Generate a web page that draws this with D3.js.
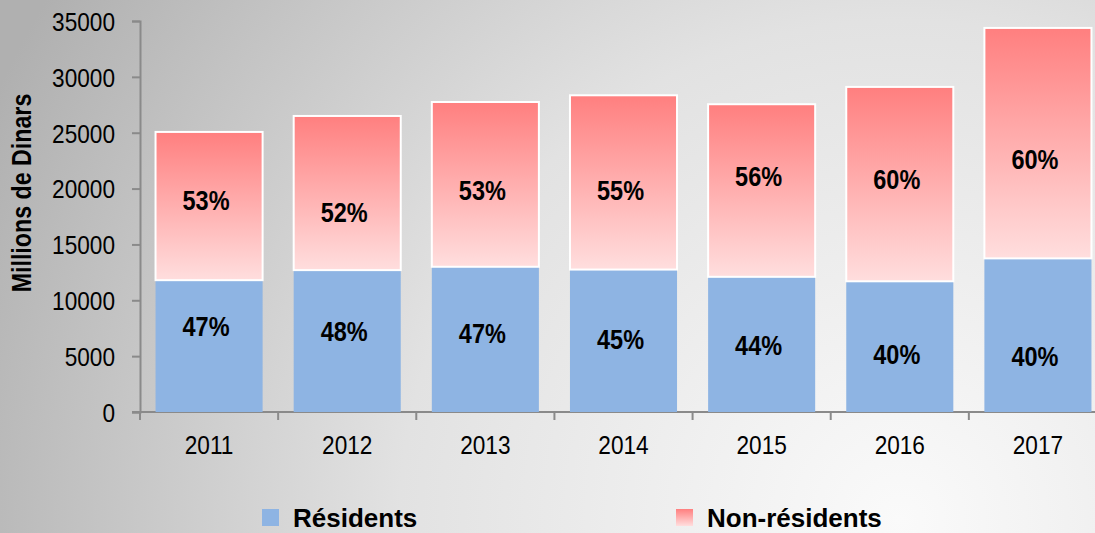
<!DOCTYPE html>
<html>
  <head>
    <meta charset="utf-8">
    <script type="text/javascript" src="https://cdn.jsdelivr.net/npm/d3@7/dist/d3.min.js"></script>
    <style>
      body { margin: 0; }
      text { font-family: "Liberation Sans", Arial, sans-serif; }
    </style>
  </head>
  <body>
    <script type="text/javascript">
    // data (millions de dinars)
    var years = ["2011", "2012", "2013", "2014", "2015", "2016", "2017"];
    var residents = [11800, 12700, 13000, 12750, 12100, 11700, 13750];
    var nonResidents = [13270, 13800, 14750, 15600, 15450, 17400, 20630];
    var resPct = ["47%", "48%", "47%", "45%", "44%", "40%", "40%"];
    var nonResPct = ["53%", "52%", "53%", "55%", "56%", "60%", "60%"];
    // where the percentage labels sit, in data units (placed by hand in the original)
    var resLabelAt = [7700, 7250, 7070, 6535, 6000, 5190, 5010];
    var nonResLabelAt = [18980, 17905, 19875, 19875, 21130, 20860, 22650];
    var yTicks = [0, 5000, 10000, 15000, 20000, 25000, 30000, 35000];
    var seriesNames = ["Résidents", "Non-résidents"];

    var W = 1095, H = 533;
    var svg = d3.select('body').append('svg')
                .attr('width', W)
                .attr('height', H);

    // the original uses a condensed face; squeeze Liberation Sans instead
    function squeeze(px, py, s) {
        return 'translate(' + px + ',' + py + ') scale(' + s + ',1)';
    }

    var defs = svg.append('defs');
    var bg = defs.append('radialGradient')
                 .attr('id', 'bg')
                 .attr('gradientUnits', 'userSpaceOnUse')
                 .attr('cx', 900).attr('cy', 520).attr('r', 1000);
    bg.append('stop').attr('offset', 0).attr('stop-color', '#fafafa');
    bg.append('stop').attr('offset', 0.5).attr('stop-color', '#e2e2e2');
    bg.append('stop').attr('offset', 1).attr('stop-color', '#b0b0b0');

    var pink = defs.append('linearGradient')
                   .attr('id', 'pink')
                   .attr('x1', 0).attr('y1', 0).attr('x2', 0).attr('y2', 1);
    pink.append('stop').attr('offset', 0).attr('stop-color', '#ff7f7f');
    pink.append('stop').attr('offset', 1).attr('stop-color', '#ffdede');

    svg.append('rect')
       .attr('width', W).attr('height', H)
       .attr('fill', 'url(#bg)');

    var x = d3.scaleBand()
              .domain(years)
              .range([140, 1107])
              .paddingInner(0.225)
              .paddingOuter(0.1125);
    var y = d3.scaleLinear().domain([0, 35000]).range([412, 21]);

    // y axis
    var yAxis = svg.append('g')
        .attr('transform', 'translate(140,0)')
        .call(d3.axisLeft(y).tickValues(yTicks).tickFormat(d3.format('d')).tickSize(8).tickPadding(17));
    yAxis.select('.domain').attr('stroke', '#8a8a8a').attr('stroke-width', 2);
    yAxis.selectAll('.tick line').attr('stroke', '#8a8a8a').attr('stroke-width', 2);
    yAxis.selectAll('.tick text')
         .attr('x', 0)
         .attr('dy', '0.36em')
         .attr('transform', squeeze(-25, 0, 0.87))
         .style('font-family', '"Liberation Sans", Arial, sans-serif')
         .style('font-size', '26px')
         .attr('fill', '#000');

    // x axis: baseline + ticks at the band boundaries
    var xg = svg.append('g');
    xg.append('line')
      .attr('x1', 132).attr('x2', W)
      .attr('y1', y(0)).attr('y2', y(0))
      .attr('stroke', '#8a8a8a').attr('stroke-width', 2);
    var bounds = d3.range(years.length + 1).map(function(i) { return 140 + i * x.step(); });
    xg.selectAll('line.xt')
      .data(bounds)
      .enter()
      .append('line')
      .attr('class', 'xt')
      .attr('x1', function(d) { return d; })
      .attr('x2', function(d) { return d; })
      .attr('y1', y(0)).attr('y2', y(0) + 8)
      .attr('stroke', '#8a8a8a').attr('stroke-width', 2);
    xg.selectAll('text')
      .data(years)
      .enter()
      .append('text')
      .attr('transform', function(d) { return squeeze(x(d) + x.bandwidth() / 2, 454, 0.87); })
      .attr('text-anchor', 'middle')
      .style('font-size', '26px')
      .text(function(d) { return d; });

    // bars
    var rows = years.map(function(yr, i) {
        return { year: yr, res: residents[i], non: nonResidents[i],
                 resPct: resPct[i], nonPct: nonResPct[i],
                 resAt: resLabelAt[i], nonAt: nonResLabelAt[i] };
    });

    svg.selectAll('rect.res')
       .data(rows)
       .enter()
       .append('rect')
       .attr('class', 'res')
       .attr('x', function(d) { return x(d.year); })
       .attr('y', function(d) { return y(d.res); })
       .attr('width', x.bandwidth())
       .attr('height', function(d) { return y(0) - y(d.res); })
       .style('fill', '#8eb4e3');

    svg.selectAll('rect.non')
       .data(rows)
       .enter()
       .append('rect')
       .attr('class', 'non')
       .attr('x', function(d) { return x(d.year); })
       .attr('y', function(d) { return y(d.res + d.non); })
       .attr('width', x.bandwidth())
       .attr('height', function(d) { return y(d.res) - y(d.res + d.non); })
       .style('fill', 'url(#pink)')
       .style('stroke', '#fff')
       .style('stroke-width', 2);

    // percentage labels
    svg.selectAll('text.rp')
       .data(rows)
       .enter()
       .append('text')
       .attr('transform', function(d) { return squeeze(x(d.year) + x.bandwidth() / 2 - 3, y(d.resAt) + 10, 0.84); })
       .attr('text-anchor', 'middle')
       .style('font-size', '28px')
       .style('font-weight', 'bold')
       .text(function(d) { return d.resPct; });

    svg.selectAll('text.np')
       .data(rows)
       .enter()
       .append('text')
       .attr('transform', function(d) { return squeeze(x(d.year) + x.bandwidth() / 2 - 3, y(d.nonAt) + 10, 0.84); })
       .attr('text-anchor', 'middle')
       .style('font-size', '28px')
       .style('font-weight', 'bold')
       .text(function(d) { return d.nonPct; });

    // y title
    svg.append('text')
       .attr('transform', 'translate(31,193) rotate(-90) scale(0.86,1)')
       .attr('text-anchor', 'middle')
       .style('font-size', '27px')
       .style('font-weight', 'bold')
       .text('Millions de Dinars');

    // legend
    var legX = [262, 676];
    var legFill = ['#8eb4e3', 'url(#pink)'];
    var leg = svg.selectAll('g.leg')
                 .data(seriesNames)
                 .enter()
                 .append('g')
                 .attr('transform', function(d, i) { return 'translate(' + legX[i] + ',509)'; });
    leg.append('rect')
       .attr('width', 17).attr('height', 17)
       .style('fill', function(d, i) { return legFill[i]; });
    leg.append('text')
       .attr('x', 31).attr('y', 18)
       .style('font-size', '26px')
       .style('font-weight', 'bold')
       .text(function(d) { return d; });
    </script>
  </body>
</html>
